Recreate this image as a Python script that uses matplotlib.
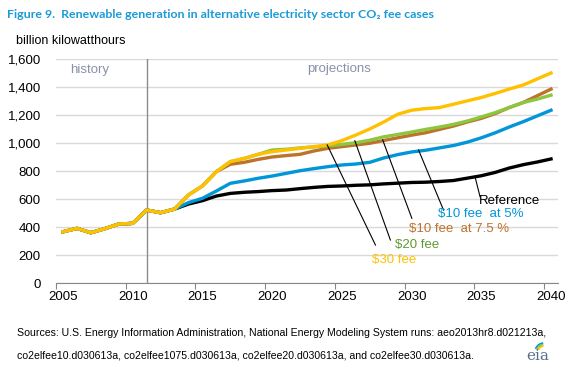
import matplotlib
matplotlib.use("Agg")
import matplotlib.pyplot as plt
import numpy as np
from matplotlib.patches import Arc

# ---- data ----
hist_years = list(range(2005, 2014))
history = [366, 390, 359, 388, 421, 426, 521, 502, 528]

proj_years = list(range(2014, 2041))
reference = [564, 588, 621, 640, 648, 653, 660, 664, 674, 683, 690, 693, 698, 701,
             708, 713, 718, 720, 725, 732, 749, 766, 790, 821, 845, 864, 886]
fee10_5 = [574, 605, 657, 712, 729, 748, 764, 783, 802, 817, 831, 843, 850, 862,
           893, 917, 936, 948, 965, 982, 1006, 1037, 1073, 1114, 1152, 1193, 1234]
fee10_75 = [629, 693, 795, 848, 862, 883, 900, 910, 919, 943, 962, 974, 986, 998,
            1018, 1037, 1056, 1073, 1097, 1121, 1150, 1176, 1210, 1253, 1289, 1337, 1385]
fee20 = [629, 693, 795, 867, 890, 919, 950, 955, 965, 972, 980, 990, 1002, 1020,
         1044, 1061, 1078, 1097, 1114, 1133, 1157, 1186, 1217, 1253, 1289, 1313, 1342]
fee30 = [629, 693, 795, 867, 890, 919, 938, 950, 962, 974, 986, 1017, 1057, 1100,
         1150, 1205, 1234, 1246, 1253, 1277, 1301, 1325, 1354, 1385, 1414, 1457, 1500]

series_names = ["Reference", "$10 fee  at 5%", "$10 fee  at 7.5 %", "$20 fee", "$30 fee"]
series_vals = [reference, fee10_5, fee10_75, fee20, fee30]
line_colors = ["#000000", "#0096D7", "#BD732A", "#8DC63F", "#FFC000"]
text_colors = ["#000000", "#0096D7", "#BD732A", "#5E9A35", "#FFC000"]

x_ticks = list(range(2005, 2041, 5))

# ---- figure ----
fig = plt.figure(figsize=(5.75, 3.68), dpi=100)
ax = fig.add_axes([56/575, 1-283/368, (558-56)/575, (283-59)/368])

years_all = np.array(hist_years + proj_years) + 0.5
for vals, c in zip(series_vals, line_colors):
    y = np.array(history + vals)
    ax.plot(years_all, y, color=c, lw=2.4, solid_joinstyle="round", zorder=3)

ax.set_xlim(2005, 2041)
ax.set_ylim(0, 1600)
ax.set_yticks(range(0, 1601, 200))
ax.set_yticklabels([f"{v:,}" for v in range(0, 1601, 200)], fontsize=9.5,
                   family="Liberation Sans")
ax.yaxis.grid(True, color="#D9D9D9", lw=1)
ax.set_axisbelow(True)
ax.tick_params(axis="y", length=0, pad=11)

ax.set_xticks(x_ticks)
ax.set_xticklabels([])
ax.set_xticks([t + 0.5 for t in x_ticks], minor=True)
ax.set_xticklabels([str(t) for t in x_ticks], minor=True, fontsize=9.5,
                   family="Liberation Sans")
ax.tick_params(axis="x", which="major", length=4, color="#888888", direction="out")
ax.tick_params(axis="x", which="minor", length=0, pad=6)

for s in ["top", "right", "left"]:
    ax.spines[s].set_visible(False)
ax.spines["bottom"].set_color("#888888")

ax.axvline(2011.5, color="#8C8C8C", lw=1, zorder=2)
ax.text(2006.0, 1520, "history", color="#8A90AA", fontsize=9.5, va="center",
        family="Liberation Sans")
ax.text(2023.0, 1530, "projections", color="#8A90AA", fontsize=9.5, va="center",
        family="Liberation Sans")

# annotations: (line start, line end, label position)
ann = [
    ((2035.05, 759), (2035.41, 616), (2035.3, 586)),
    ((2031.0, 950), (2032.79, 521), (2032.36, 490)),
    ((2028.43, 1021), (2030.52, 462), (2030.29, 383)),
    ((2026.43, 1016), (2028.98, 307), (2029.29, 271)),
    ((2024.45, 986), (2027.91, 271), (2027.64, 164)),
]
for (p0, p1, pt), name, tc in zip(ann, series_names, text_colors):
    ax.plot([p0[0], p1[0]], [p0[1], p1[1]], color="#000000", lw=0.8, zorder=4)
    ax.text(pt[0], pt[1], name, color=tc, fontsize=9.5, va="center", ha="left",
            family="Liberation Sans", zorder=5)

# title and unit
fig.text(7/575, 1-14/368, "Figure 9.  Renewable generation in alternative electricity sector CO\u2082 fee cases",
         color="#1B9AD6", fontsize=8.9, fontweight="bold", va="center", ha="left",
         family=["Lato", "DejaVu Sans"])
fig.text(16/575, 1-41/368, "billion kilowatthours", fontsize=9, va="center",
         family="Liberation Sans")

# sources
fig.text(17/575, 1-333/368,
         "Sources: U.S. Energy Information Administration, National Energy Modeling System runs: aeo2013hr8.d021213a,",
         fontsize=7.6, va="center", family="Liberation Sans")
fig.text(17/575, 1-356/368,
         "co2elfee10.d030613a, co2elfee1075.d030613a, co2elfee20.d030613a, and co2elfee30.d030613a.",
         fontsize=7.6, va="center", family="Liberation Sans")

# eia logo
fig.text(538/575, 1-356/368, "eia", fontsize=11, color="#5A6E8C", family="DejaVu Serif",
         ha="center", va="center")
lax = fig.add_axes([526/575, 1-350/368, 24/575, 10/368])
lax.set_xlim(0, 24); lax.set_ylim(0, 10); lax.axis("off")
for r, c in zip([9, 7.5, 6], ["#0096D7", "#8DC63F", "#FFC000"]):
    lax.add_patch(Arc((18, -2), 2*r, 2*r, theta1=95, theta2=160, color=c, lw=1.2))

fig.savefig("out.png", dpi=100)
